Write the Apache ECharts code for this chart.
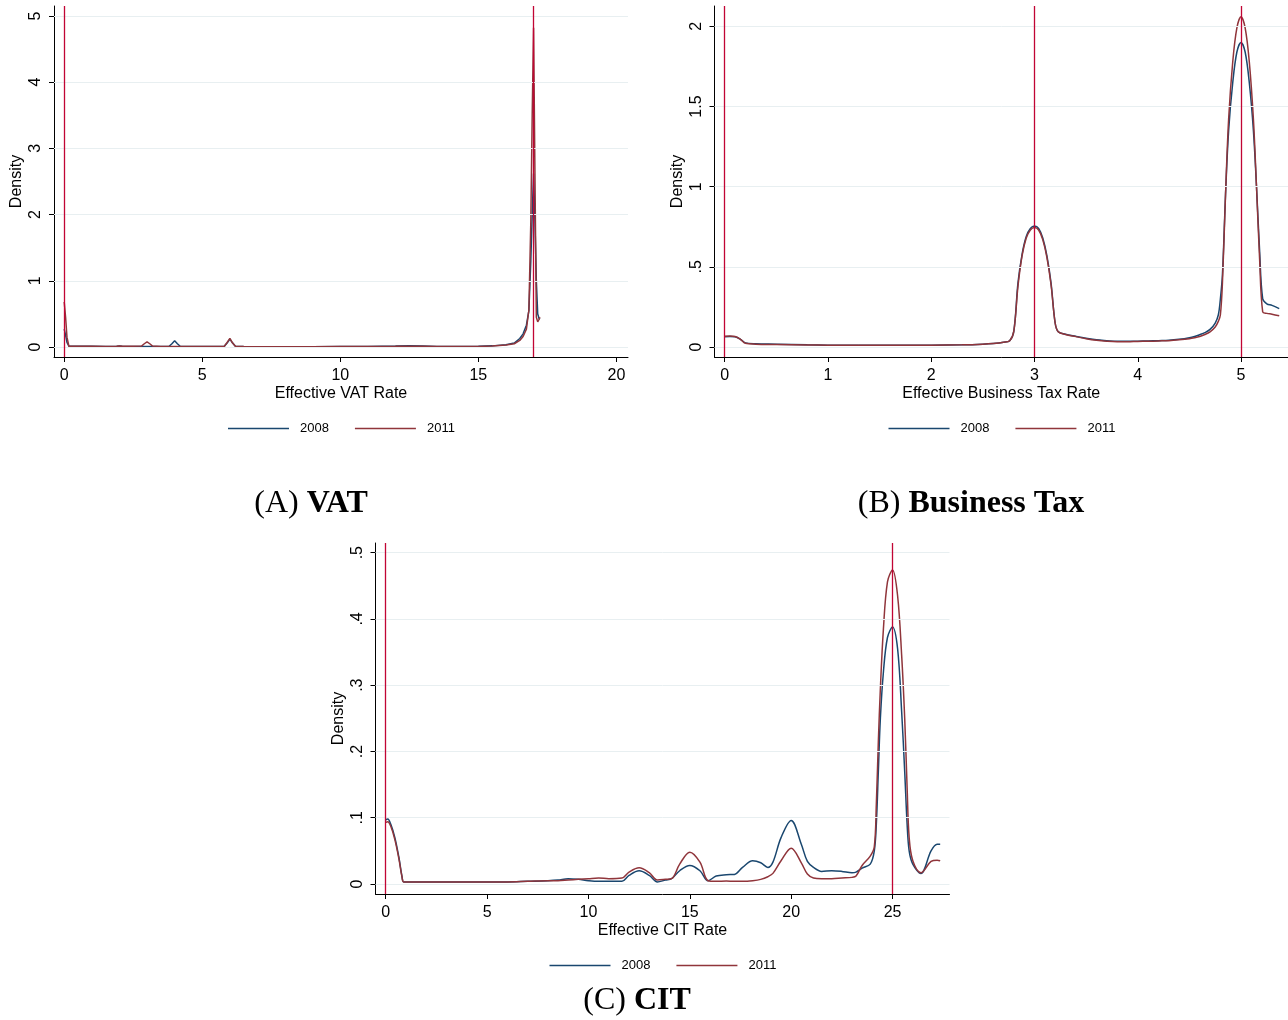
<!DOCTYPE html>
<html lang="en">
<head>
    <meta charset="UTF-8">
    <title>Effective Tax Rate Densities</title>
    <script src="https://cdn.jsdelivr.net/npm/echarts@6.0.0/dist/echarts.min.js"></script>
    <style>
        * { margin: 0; padding: 0; box-sizing: border-box; }
        body { background: #fff; }
        #chart { width: 1288px; height: 1020px; }
    </style>
</head>
<body>
    <div id="chart"></div>

    <script>
        // (A) VAT
        const vatX = [0, 0.05, 0.1, 0.17, 0.5, 1, 1.5, 1.9, 2.0, 2.1, 2.5, 2.8, 2.9, 3.0, 3.1, 3.2, 3.5, 3.8, 3.9, 4.0, 4.1, 4.2, 4.5, 5, 5.5, 5.8, 5.9, 6.0, 6.1, 6.2, 6.5, 7, 8, 9, 10, 11, 12, 12.5, 13, 13.5, 14, 15, 15.5, 16, 16.3, 16.5, 16.62, 16.74, 16.83, 16.9, 16.95, 17.0, 17.05, 17.1, 17.15, 17.2, 17.23];
        const vat2008 = [0.27, 0.18, 0.07, 0.012, 0.012, 0.011, 0.01, 0.012, 0.018, 0.012, 0.01, 0.008, 0.008, 0.008, 0.008, 0.008, 0.01, 0.012, 0.05, 0.095, 0.05, 0.012, 0.01, 0.01, 0.01, 0.012, 0.06, 0.12, 0.06, 0.012, 0.008, 0.006, 0.006, 0.006, 0.008, 0.01, 0.015, 0.018, 0.015, 0.008, 0.008, 0.012, 0.018, 0.035, 0.06, 0.13, 0.2, 0.33, 0.55, 1.3, 2.0, 2.62, 1.9, 1.0, 0.5, 0.43, 0.42];
        const vat2011 = [0.68, 0.45, 0.15, 0.012, 0.012, 0.011, 0.01, 0.012, 0.015, 0.012, 0.012, 0.015, 0.05, 0.08, 0.05, 0.015, 0.01, 0.008, 0.008, 0.01, 0.008, 0.008, 0.008, 0.01, 0.01, 0.012, 0.07, 0.13, 0.06, 0.012, 0.008, 0.006, 0.006, 0.006, 0.008, 0.01, 0.012, 0.014, 0.012, 0.008, 0.008, 0.01, 0.015, 0.03, 0.05, 0.1, 0.16, 0.27, 0.56, 1.9, 3.5, 4.82, 2.6, 0.45, 0.38, 0.42, 0.45];
        const vatXTicks = [0, 5, 10, 15, 20];
        const vatYTicks = [0, 1, 2, 3, 4, 5];
        const vatRates = [0, 17];

        // (B) Business Tax
        const bizX = [0, 0.05, 0.1, 0.15, 0.2, 0.3, 0.5, 0.8, 1.0, 1.3, 1.6, 2.0, 2.3, 2.5, 2.6, 2.7, 2.76, 2.8, 2.84, 2.88, 2.92, 2.96, 3.0, 3.04, 3.08, 3.12, 3.16, 3.2, 3.23, 3.3, 3.4, 3.5, 3.6, 3.7, 3.8, 3.9, 4.0, 4.1, 4.2, 4.3, 4.4, 4.5, 4.55, 4.6, 4.65, 4.7, 4.75, 4.78, 4.8, 4.82, 4.85, 4.88, 4.92, 4.96, 5.0, 5.04, 5.08, 5.12, 5.15, 5.18, 5.21, 5.25, 5.3, 5.37];
        const biz2008 = [0.065, 0.066, 0.064, 0.05, 0.026, 0.02, 0.018, 0.014, 0.012, 0.011, 0.011, 0.012, 0.014, 0.018, 0.022, 0.03, 0.04, 0.1, 0.4, 0.58, 0.69, 0.74, 0.755, 0.74, 0.68, 0.57, 0.4, 0.15, 0.095, 0.08, 0.067, 0.055, 0.045, 0.04, 0.036, 0.036, 0.037, 0.038, 0.04, 0.042, 0.048, 0.058, 0.066, 0.077, 0.09, 0.11, 0.15, 0.2, 0.3, 0.45, 0.95, 1.35, 1.65, 1.84, 1.9, 1.84, 1.65, 1.35, 1.0, 0.6, 0.3, 0.27, 0.26, 0.24];
        const biz2011 = [0.068, 0.069, 0.066, 0.05, 0.024, 0.018, 0.016, 0.013, 0.012, 0.011, 0.011, 0.012, 0.014, 0.018, 0.022, 0.03, 0.04, 0.1, 0.38, 0.57, 0.68, 0.73, 0.745, 0.73, 0.67, 0.56, 0.39, 0.15, 0.095, 0.078, 0.065, 0.052, 0.042, 0.036, 0.033, 0.033, 0.035, 0.036, 0.038, 0.04, 0.045, 0.052, 0.058, 0.066, 0.078, 0.095, 0.125, 0.16, 0.2, 0.4, 0.95, 1.42, 1.78, 1.99, 2.06, 1.99, 1.78, 1.42, 1.0, 0.55, 0.22, 0.21, 0.205, 0.195];
        const bizXTicks = [0, 1, 2, 3, 4, 5];
        const bizYTicks = [0, 0.5, 1, 1.5, 2];
        const bizRates = [0, 3, 5];

        // (C) CIT
        const citX = [0, 0.1, 0.25, 0.45, 0.65, 0.8, 0.9, 2, 4, 6, 7, 8, 8.5, 9, 9.5, 10, 10.5, 11, 11.65, 12.0, 12.5, 13.0, 13.4, 13.8, 14.1, 14.5, 15.0, 15.5, 15.9, 16.3, 16.8, 17.2, 17.6, 18.1, 18.5, 18.85, 19.1, 19.5, 20.0, 20.5, 20.8, 21.1, 21.5, 22.0, 22.5, 23.0, 23.2, 23.5, 23.9, 24.1, 24.2, 24.3, 24.4, 24.55, 24.75, 25.0, 25.25, 25.45, 25.6, 25.72, 25.82, 26.0, 26.4, 26.9, 27.2, 27.35];
        const cit2008 = [0.097, 0.098, 0.09, 0.07, 0.04, 0.012, 0.003, 0.003, 0.003, 0.003, 0.004, 0.005, 0.006, 0.008, 0.007, 0.005, 0.004, 0.004, 0.004, 0.013, 0.02, 0.013, 0.003, 0.006, 0.008, 0.02, 0.028, 0.02, 0.005, 0.012, 0.014, 0.0145, 0.025, 0.035, 0.032, 0.025, 0.033, 0.07, 0.096, 0.06, 0.034, 0.025, 0.019, 0.02, 0.019, 0.017, 0.018, 0.024, 0.03, 0.05, 0.09, 0.17, 0.25, 0.32, 0.372, 0.388, 0.355, 0.26, 0.17, 0.09, 0.05, 0.03, 0.016, 0.05, 0.06, 0.06];
        const cit2011 = [0.093, 0.094, 0.087, 0.067, 0.038, 0.011, 0.003, 0.003, 0.003, 0.003, 0.004, 0.005, 0.005, 0.006, 0.007, 0.008, 0.009, 0.008, 0.009, 0.018, 0.0245, 0.017, 0.006, 0.007, 0.008, 0.03, 0.048, 0.033, 0.005, 0.004, 0.0045, 0.004, 0.004, 0.005, 0.007, 0.011, 0.016, 0.035, 0.054, 0.032, 0.015, 0.009, 0.008, 0.008, 0.009, 0.01, 0.012, 0.028, 0.042, 0.056, 0.12, 0.215, 0.295, 0.385, 0.456, 0.474, 0.435, 0.345, 0.25, 0.145, 0.07, 0.035, 0.017, 0.034, 0.036, 0.035];
        const citXTicks = [0, 5, 10, 15, 20, 25];
        const citYTicks = [0, 0.1, 0.2, 0.3, 0.4, 0.5];
        const citRates = [0, 25];

        const years = ['2008', '2011'];
        const yearColors = ['#1a476f', '#90353b'];
        const sans = "'Liberation Sans', Arial, Helvetica, sans-serif";
        const serif = "'Liberation Serif', 'Times New Roman', serif";

        // stata style: .5 instead of 0.5
        const stataNum = v => String(v).replace(/^0\./, '.');

        const panels = [
            { x: vatX, y: [vat2008, vat2011], xTicks: vatXTicks, yTicks: vatYTicks, rates: vatRates,
              xName: 'Effective VAT Rate', xMin: -0.37, xMax: 20.42, yMin: -0.15, yMax: 5.15,
              left: 54, top: 6, smooth: false },
            { x: bizX, y: [biz2008, biz2011], xTicks: bizXTicks, yTicks: bizYTicks, rates: bizRates,
              xName: 'Effective Business Tax Rate', xMin: -0.099, xMax: 5.455, yMin: -0.062, yMax: 2.127,
              left: 714.5, top: 6, smooth: 0.35 },
            { x: citX, y: [cit2008, cit2011], xTicks: citXTicks, yTicks: citYTicks, rates: citRates,
              xName: 'Effective CIT Rate', xMin: -0.505, xMax: 27.81, yMin: -0.0151, yMax: 0.5146,
              left: 375.5, top: 543, smooth: 0.35 }
        ];
        const plotW = 574, plotH = 351;

        const grid = [], xAxis = [], yAxis = [], series = [], legend = [];

        panels.forEach((p, i) => {
            grid.push({ left: p.left, top: p.top, width: plotW, height: plotH });

            xAxis.push({
                type: 'value', gridIndex: i, min: p.xMin, max: p.xMax,
                name: p.xName, nameLocation: 'middle', nameGap: 29,
                nameTextStyle: { fontFamily: sans, fontSize: 16, color: '#000' },
                axisLine: { show: true, onZero: false, lineStyle: { color: '#000', width: 1 } },
                axisTick: { show: true, length: 5, customValues: p.xTicks, lineStyle: { color: '#000' } },
                axisLabel: { customValues: p.xTicks, margin: 11, fontFamily: sans, fontSize: 16, color: '#000',
                             formatter: stataNum },
                splitLine: { show: false }
            });

            yAxis.push({
                type: 'value', gridIndex: i, min: p.yMin, max: p.yMax,
                name: 'Density', nameLocation: 'middle', nameGap: 29, nameRotate: 90,
                nameTextStyle: { fontFamily: sans, fontSize: 16, color: '#000' },
                axisLine: { show: true, onZero: false, lineStyle: { color: '#000', width: 1 } },
                axisTick: { show: true, length: 5, customValues: p.yTicks, lineStyle: { color: '#000' } },
                axisLabel: { customValues: p.yTicks, rotate: 90, margin: 10, fontFamily: sans, fontSize: 16,
                             color: '#000', formatter: stataNum },
                splitLine: { show: false }
            });

            // light horizontal grid lines at the y ticks
            series.push({
                name: 'grid' + i, type: 'line', xAxisIndex: i, yAxisIndex: i, data: [], z: 1, silent: true,
                markLine: {
                    silent: true, symbol: 'none', animation: false, label: { show: false },
                    lineStyle: { color: '#e8eff1', width: 1, type: 'solid' },
                    data: p.yTicks.map(v => ({ yAxis: v }))
                }
            });

            years.forEach((yr, k) => {
                series.push({
                    name: yr, type: 'line', xAxisIndex: i, yAxisIndex: i, z: 2 + k,
                    showSymbol: false, smooth: p.smooth, color: yearColors[k],
                    lineStyle: { color: yearColors[k], width: 1.5 },
                    data: p.x.map((xv, j) => [xv, p.y[k][j]])
                });
            });

            // statutory rate lines
            series.push({
                name: 'rates' + i, type: 'line', xAxisIndex: i, yAxisIndex: i, data: [], z: 5, silent: true,
                markLine: {
                    silent: true, symbol: 'none', animation: false, label: { show: false },
                    lineStyle: { color: '#c10534', width: 1.3, type: 'solid' },
                    data: p.rates.map(v => ({ xAxis: v }))
                }
            });

            legend.push({
                data: years, left: p.left + plotW / 2 - 118, top: p.top + 411,
                icon: 'rect', itemWidth: 61, itemHeight: 1.5, itemGap: 26,
                textStyle: { fontFamily: sans, fontSize: 13, color: '#000', padding: [0, 0, 0, 6] },
                selectedMode: false
            });
        });

        const capRich = {
            a: { fontFamily: serif, fontSize: 32, color: '#000' },
            b: { fontFamily: serif, fontSize: 32, fontWeight: 'bold', color: '#000' }
        };
        const caption = (text, x, y) => ({
            type: 'text', x: x, y: y,
            style: { text: text, rich: capRich, align: 'center', verticalAlign: 'middle' }
        });

        const chart = echarts.init(document.getElementById('chart'));
        chart.setOption({
            animation: false,
            grid: grid,
            xAxis: xAxis,
            yAxis: yAxis,
            legend: legend,
            series: series,
            graphic: [
                caption('{a|(A) }{b|VAT}', 311, 504),
                caption('{a|(B) }{b|Business Tax}', 971, 504),
                caption('{a|(C) }{b|CIT}', 637, 1001)
            ]
        });
    </script>
</body>
</html>
